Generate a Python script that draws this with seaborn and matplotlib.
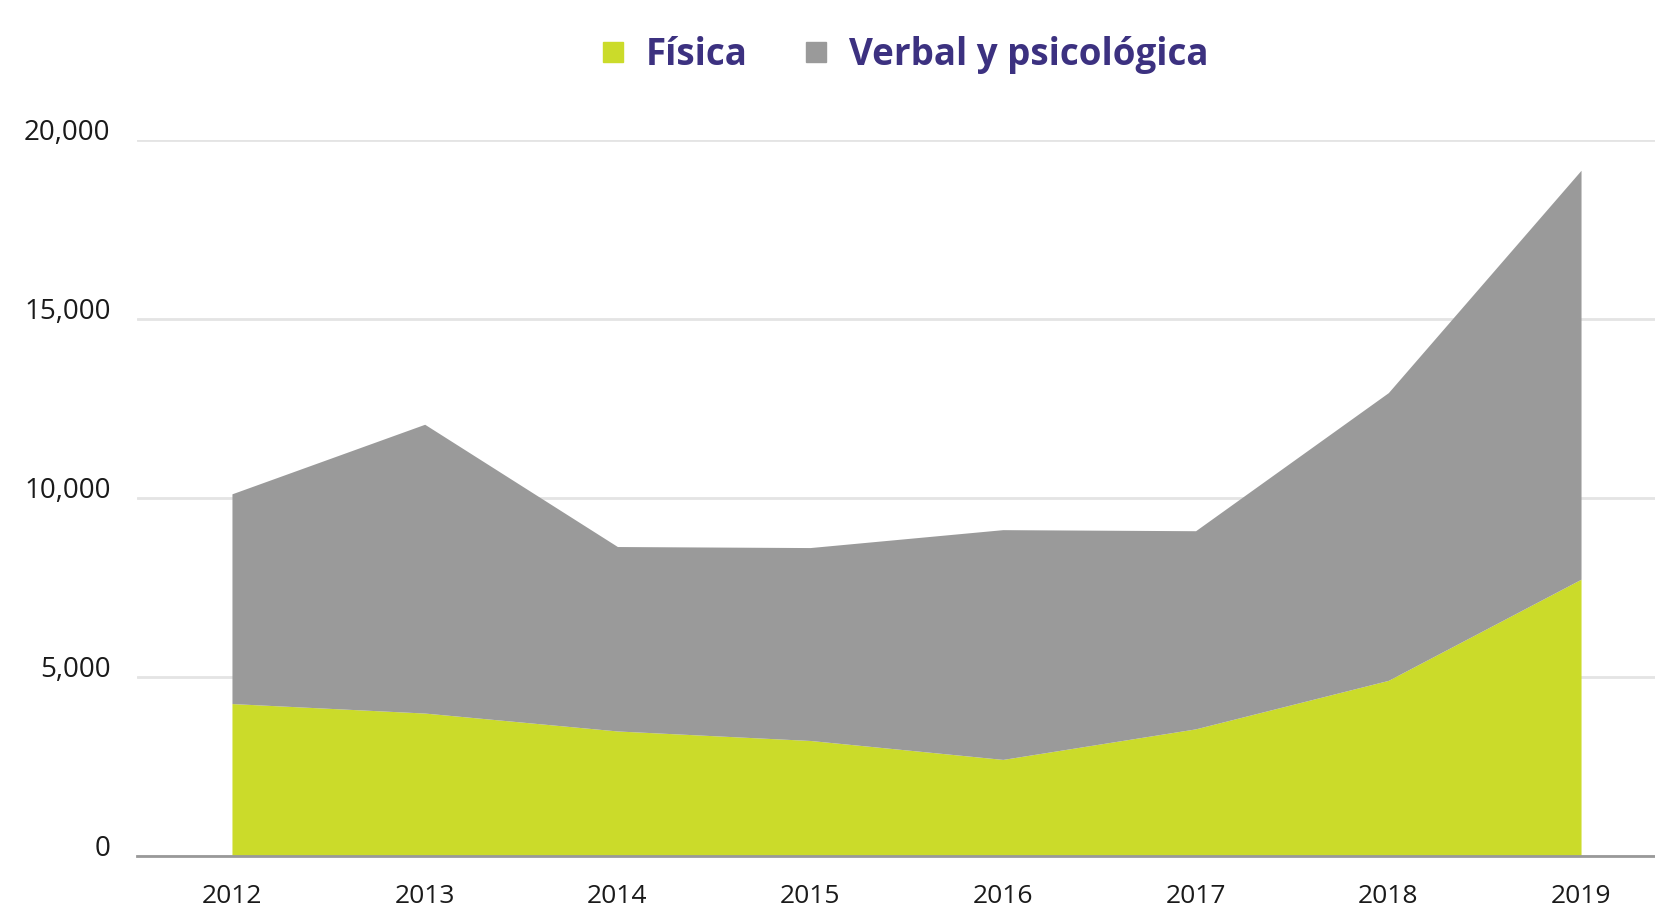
import matplotlib
matplotlib.use('Agg')
import matplotlib.pyplot as plt
import seaborn as sns
from matplotlib.lines import Line2D
from matplotlib.ticker import FuncFormatter

years = [2012, 2013, 2014, 2015, 2016, 2017, 2018, 2019]
fisica = [4265, 4000, 3500, 3235, 2706, 3559, 4912, 7735]
verbal = [5853, 8059, 5147, 5383, 6412, 5529, 8029, 11412]
series_names = ['Física', 'Verbal y psicológica']
series_colors = ['#cbdb2a', '#9a9a9a']
y_ticks = [0, 5000, 10000, 15000, 20000]

sns.set_style('white')
plt.rcParams['font.family'] = ['Open Sans', 'DejaVu Sans']

fig = plt.figure(figsize=(16.56, 9.13), dpi=100)
ax = fig.add_axes([0.0827, 0.062, 0.9173, 0.785])

ax.stackplot(years, fisica, verbal, colors=series_colors, linewidth=0)

ax.set_xlim(2011.507, 2019.389)
ax.set_ylim(0, 20000)
ax.set_yticks(y_ticks)
ax.yaxis.set_major_formatter(FuncFormatter(lambda v, p: f'{int(v):,}'))
ax.set_xticks(years)
ax.set_xticklabels([str(y) for y in years])

ax.grid(True, axis='y', color='#e4e4e4', linewidth=2)
ax.set_axisbelow(True)
sns.despine(ax=ax, left=True, top=True, right=True, bottom=False)
ax.spines['bottom'].set_color('#999999')
ax.spines['bottom'].set_linewidth(2)
ax.spines['bottom'].set_zorder(5)

ax.tick_params(axis='y', length=0, pad=19, labelsize=20, labelcolor='#1a1a1a')
ax.tick_params(axis='x', length=0, pad=20, labelsize=19, labelcolor='#1a1a1a')
for lbl in ax.get_yticklabels():
    lbl.set_verticalalignment('baseline')

handles = [Line2D([], [], marker='s', linestyle='', markersize=15, color=c) for c in series_colors]
fig.legend(handles, series_names, loc='center', bbox_to_anchor=(0.546, 0.940), ncol=2,
           frameon=False, handlelength=0.7, handletextpad=0.55, columnspacing=1.5,
           prop={'size': 26.5, 'weight': 'bold'}, labelcolor='#3c3180')

fig.savefig('out.png', dpi=100)
